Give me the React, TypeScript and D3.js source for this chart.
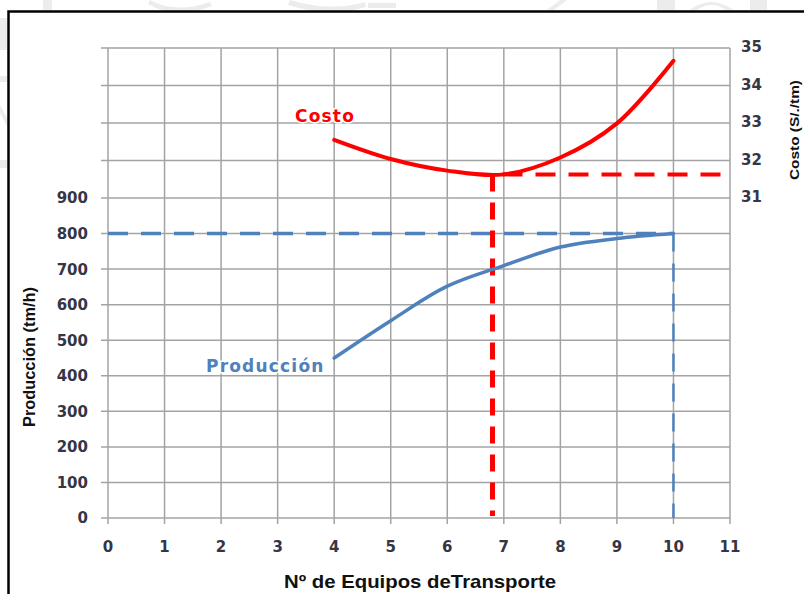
import React from "react";
import * as d3 from "d3";

// Number of haul units and the resulting production / unit cost
const equipos = [4, 5, 6, 7, 8, 9, 10];
const produccion = [450, 555, 652, 710, 762, 786, 800];
const costo = [32.55, 32.04, 31.73, 31.63, 32.08, 32.99, 34.66];

// Axis ticks
const xTicks = [0, 1, 2, 3, 4, 5, 6, 7, 8, 9, 10, 11];
const prodTicks = [0, 100, 200, 300, 400, 500, 600, 700, 800, 900];
const costTicks = [31, 32, 33, 34, 35];

// Reference lines: optimum fleet for minimum cost, and maximum production
const optimoEquipos = 6.8;
const costoMinimo = 31.63;
const maxEquipos = 10;
const prodMaxima = 800;

const W = 804;
const H = 594;

const x = d3.scaleLinear().domain([0, 11]).range([108, 730]);
const yProd = d3.scaleLinear().domain([0, 900]).range([518, 198]);
const yCost = d3.scaleLinear().domain([31, 35]).range([198, 48]);

const GRID = "#a3a3a3";
const RED = "#ff0000";
const BLUE = "#4f81bd";
const TICK_TEXT = "#353545";

export default function App() {
  const prodLine = d3
    .line<number>()
    .x((_, i) => x(equipos[i]))
    .y((d) => yProd(d))
    .curve(d3.curveCatmullRom.alpha(0.5));
  const costLine = d3
    .line<number>()
    .x((_, i) => x(equipos[i]))
    .y((d) => yCost(d))
    .curve(d3.curveCatmullRom.alpha(0.5));

  const top = yCost(35);
  const bottom = yProd(0);
  const left = x(0);
  const right = x(11);
  const hLines = [...prodTicks.map((v) => yProd(v)), ...costTicks.filter((v) => v > 31).map((v) => yCost(v))];

  return (
    <svg
      width={W}
      height={H}
      viewBox={`0 0 ${W} ${H}`}
      style={{ position: "absolute", left: 0, top: 0, background: "#fff" }}
    >
      {/* faint background lettering outside the frame */}
      <g fill="#ececec" stroke="none">
        <rect x={0} y={18} width={7} height={32} />
        <rect x={43} y={0} width={9} height={10} />
        <path d="M150,0 Q175,14 210,2 L212,6 Q175,20 148,4 Z" />
        <path d="M290,0 Q330,12 365,2 L366,7 Q330,18 288,5 Z" />
        <rect x={368} y={3} width={28} height={5} />
        <path d="M547,10 L560,0 L567,0 L554,10 Z" />
        <rect x={657} y={0} width={18} height={10} />
        <path d="M690,10 Q711,-6 733,10 L726,10 Q711,0 697,10 Z" />
        <rect x={750} y={0} width={17} height={10} />
        <rect x={0} y={76} width={7} height={6} />
        <path d="M0,105 L7,118 L7,126 L0,113 Z" />
        <rect x={0} y={160} width={7} height={8} />
      </g>

      {/* outer frame */}
      <rect x={8.5} y={11.5} width={W} height={H} fill="none" stroke="#000" strokeWidth={2.5} />

      {/* grid */}
      <g stroke={GRID} strokeWidth={1.5}>
        {xTicks.map((t) => (
          <line key={"v" + t} x1={x(t)} x2={x(t)} y1={top} y2={bottom + 6} />
        ))}
        {hLines.map((yy, i) => (
          <line key={"h" + i} x1={left - 7} x2={right} y1={yy} y2={yy} />
        ))}
      </g>

      {/* x tick labels */}
      <g fontFamily="DejaVu Sans" fontWeight="bold" fontSize={15} fill={TICK_TEXT} textAnchor="middle">
        {xTicks.map((t) => (
          <text key={t} x={x(t)} y={552}>
            {t}
          </text>
        ))}
      </g>

      {/* left tick labels */}
      <g fontFamily="DejaVu Sans" fontWeight="bold" fontSize={15} fill={TICK_TEXT} textAnchor="end">
        {prodTicks.map((t) => (
          <text key={t} x={88} y={yProd(t)} dy="0.36em">
            {t}
          </text>
        ))}
      </g>

      {/* right tick labels */}
      <g fontFamily="DejaVu Sans" fontWeight="bold" fontSize={15} fill={TICK_TEXT} textAnchor="start">
        {costTicks.map((t) => (
          <text key={t} x={741} y={yCost(t) - 1} dy="0.36em">
            {t}
          </text>
        ))}
      </g>

      {/* reference lines */}
      <line
        x1={x(0)}
        x2={x(maxEquipos)}
        y1={yProd(prodMaxima)}
        y2={yProd(prodMaxima)}
        stroke={BLUE}
        strokeWidth={3.5}
        strokeDasharray="20 13"
      />
      <line
        x1={x(maxEquipos)}
        x2={x(maxEquipos)}
        y1={yProd(prodMaxima)}
        y2={yProd(0)}
        stroke={BLUE}
        strokeWidth={2.5}
        strokeDasharray="18 12"
      />
      <line
        x1={x(optimoEquipos)}
        x2={x(optimoEquipos)}
        y1={yCost(costoMinimo)}
        y2={yProd(0) - 2}
        stroke={RED}
        strokeWidth={5}
        strokeDasharray="17 11"
      />
      <line
        x1={x(optimoEquipos) + 10}
        x2={right}
        y1={yCost(costoMinimo)}
        y2={yCost(costoMinimo)}
        stroke={RED}
        strokeWidth={4}
        strokeDasharray="20 13"
      />

      {/* series */}
      <path d={prodLine(produccion) ?? ""} fill="none" stroke={BLUE} strokeWidth={3.5} strokeLinecap="round" />
      <path d={costLine(costo) ?? ""} fill="none" stroke={RED} strokeWidth={4} strokeLinecap="round" />

      {/* series labels */}
      <text
        x={295}
        y={122}
        fontFamily="DejaVu Sans"
        fontWeight="bold"
        fontSize={17}
        letterSpacing={1.2}
        fill={RED}
        stroke="#fff"
        strokeWidth={3}
        paintOrder="stroke"
      >
        Costo
      </text>
      <text
        x={206}
        y={372}
        fontFamily="DejaVu Sans"
        fontWeight="bold"
        fontSize={17}
        letterSpacing={1.2}
        fill={BLUE}
        stroke="#fff"
        strokeWidth={3}
        paintOrder="stroke"
      >
        Producción
      </text>

      {/* axis titles */}
      <text
        x={420}
        y={588}
        textAnchor="middle"
        fontFamily="Liberation Sans"
        fontWeight="bold"
        fontSize={19}
        fill="#111"
        textLength={272}
        lengthAdjust="spacingAndGlyphs"
      >
        Nº de Equipos deTransporte
      </text>
      <text
        transform="translate(35,357) rotate(-90)"
        textAnchor="middle"
        fontFamily="Liberation Sans"
        fontWeight="bold"
        fontSize={16}
        fill="#111"
        textLength={140}
        lengthAdjust="spacingAndGlyphs"
      >
        Producción (tm/h)
      </text>
      <text
        transform="translate(799,130) rotate(-90)"
        textAnchor="middle"
        fontFamily="Liberation Sans"
        fontWeight="bold"
        fontSize={13}
        fill="#111"
        textLength={100}
        lengthAdjust="spacingAndGlyphs"
      >
        Costo (S/./tm)
      </text>
    </svg>
  );
}
